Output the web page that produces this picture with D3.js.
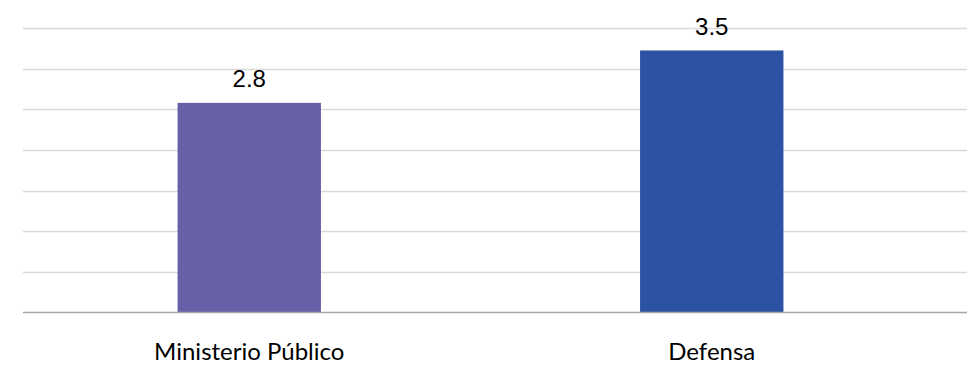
<!DOCTYPE html>
<html>
<head>
<meta charset="utf-8">
<script src="https://cdn.jsdelivr.net/npm/d3@7"></script>
<style>
  body { margin: 0; background: #fff; }
</style>
</head>
<body>
<div id="chart"></div>
<script>
// data
let categories = ["Ministerio Público", "Defensa"];
let values = [2.8, 3.5];
let colors = ["#6661A8", "#2C53A3"];
let labels = ["2.8", "3.5"];
let yMax = 3.8;
let gridCount = 7;

let width = 967;
let height = 365;
let margin = ({top: 28, right: 0, bottom: 52.5, left: 23});

let svg = d3.select("#chart").append("svg")
    .attr("width", width)
    .attr("height", height);

let y = d3.scaleLinear()
    .domain([0, yMax])
    .range([height - margin.bottom, margin.top]);

let x = d3.scaleBand()
    .domain(categories)
    .range([18, 943])
    .paddingInner(0.69)
    .paddingOuter(0.345);

// gridlines
let gridTicks = d3.range(1, gridCount + 1).map(i => i * yMax / gridCount);
svg.append("g")
    .selectAll("line")
    .data(gridTicks)
    .join("line")
    .attr("x1", margin.left)
    .attr("x2", width)
    .attr("y1", d => Math.round(y(d)) + 0.5)
    .attr("y2", d => Math.round(y(d)) + 0.5)
    .attr("stroke", "#d9d9d9")
    .attr("stroke-width", 1.3);

// bars
svg.append("g")
    .selectAll("rect")
    .data(categories)
    .join("rect")
    .attr("x", d => x(d))
    .attr("y", (d, i) => y(values[i]))
    .attr("width", x.bandwidth())
    .attr("height", (d, i) => y(0) - y(values[i]))
    .attr("fill", (d, i) => colors[i]);

// baseline
svg.append("line")
    .attr("x1", margin.left)
    .attr("x2", width)
    .attr("y1", y(0))
    .attr("y2", y(0))
    .attr("stroke", "#a6a6a6")
    .attr("stroke-width", 1.3);

// value labels
svg.append("g")
    .selectAll("text")
    .data(categories)
    .join("text")
    .attr("x", d => x(d) + x.bandwidth() / 2)
    .attr("y", (d, i) => y(values[i]) - 15.5)
    .attr("text-anchor", "middle")
    .attr("font-family", "Liberation Sans, Arial, sans-serif")
    .attr("font-size", 24)
    .attr("fill", "#000")
    .text((d, i) => labels[i]);

// category labels
svg.append("g")
    .attr("transform", `translate(0,${y(0)})`)
    .call(d3.axisBottom(x).tickSize(0).tickPadding(0))
    .call(g => g.select(".domain").remove())
    .call(g => g.selectAll("text")
        .attr("dy", 0)
        .attr("y", 47)
        .attr("font-family", "Lato, sans-serif")
        .attr("font-size", 24)
        .attr("fill", "#000"));
</script>
</body>
</html>
